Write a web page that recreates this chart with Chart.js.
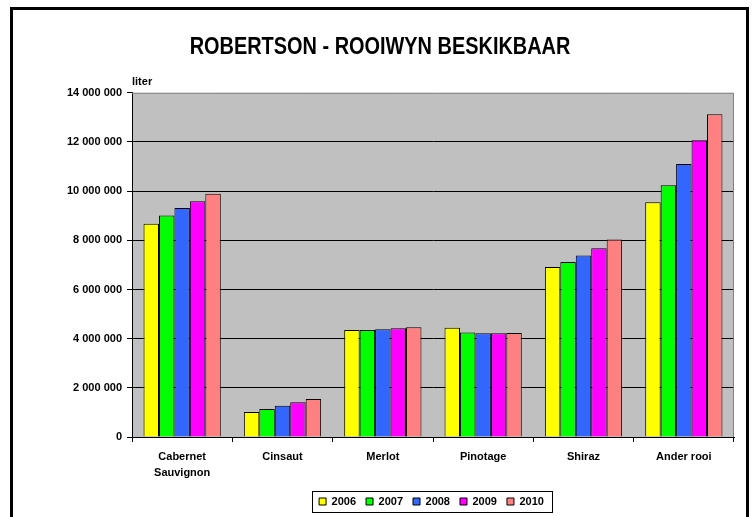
<!DOCTYPE html>
<html>
<head>
<meta charset="utf-8">
<script src="https://cdn.jsdelivr.net/npm/chart.js@4/dist/chart.umd.min.js"></script>
<style>
  html, body { margin: 0; padding: 0; background: #fff; overflow: hidden; }
  #wrap { position: relative; width: 755px; height: 517px; }
  #chart { position: absolute; left: 0; top: 0; }
  #frame {
    position: absolute; left: 10px; top: 7px; width: 733px; height: 600px;
    border: 3px solid #000; pointer-events: none;
  }
</style>
</head>
<body>
<div id="wrap">
  <canvas id="chart" width="755" height="517"></canvas>
  <div id="frame"></div>
</div>
<script>
// Robertson - red wine available, liters per cultivar
const CATEGORIES = [['Cabernet', 'Sauvignon'], 'Cinsaut', 'Merlot', 'Pinotage', 'Shiraz', 'Ander rooi'];
const YEARS = ['2006', '2007', '2008', '2009', '2010'];
const COLORS = ['#ffff00', '#00ff00', '#3366ff', '#ff00ff', '#ff8080'];

const V2006 = [8670000, 1020000, 4350000, 4440000, 6910000, 9550000];
const V2007 = [9010000, 1140000, 4350000, 4250000, 7120000, 10240000];
const V2008 = [9310000, 1270000, 4380000, 4220000, 7380000, 11100000];
const V2009 = [9590000, 1410000, 4420000, 4220000, 7680000, 12070000];
const V2010 = [9890000, 1550000, 4460000, 4230000, 8030000, 13130000];
const SERIES = [V2006, V2007, V2008, V2009, V2010];

const Y_MAX = 14000000;
const Y_STEP = 2000000;

const FONT = "'Liberation Sans', Arial, sans-serif";

const fmt = v => String(v).replace(/\B(?=(\d{3})+(?!\d))/g, ' ');

// grey plot background + outline, "liter" label, legend frame, narrow title
const decor = {
    id: 'decor',
    afterLayout(chart) {
        // legend sits right of centre in the original
        const lg = chart.legend;
        const shift = 431.5 - (lg.left + lg.right) / 2;
        lg.left += shift;
        lg.right += shift;

        // the title is drawn condensed (narrow bold face)
        const tb = chart.titleBlock;
        if (tb && !tb._narrow) {
            tb._narrow = true;
            const orig = tb.draw;
            tb.draw = function (...args) {
                const ctx = this.ctx;
                const cx = (this.left + this.right) / 2;
                ctx.save();
                ctx.translate(cx, 0);
                ctx.scale(0.83, 1);
                ctx.translate(-cx, 0);
                orig.apply(this, args);
                ctx.restore();
            };
        }
    },
    beforeDraw(chart) {
        const { ctx, chartArea: a } = chart;
        ctx.save();
        ctx.fillStyle = '#c0c0c0';
        ctx.fillRect(a.left, a.top, a.right - a.left, a.bottom - a.top);
        ctx.restore();
    },
    beforeDatasetsDraw(chart) {
        const { ctx, chartArea: a } = chart;
        ctx.save();
        ctx.strokeStyle = '#808080';
        ctx.lineWidth = 1;
        ctx.beginPath();
        ctx.moveTo(a.left, a.top + 0.5);
        ctx.lineTo(a.right - 0.5, a.top + 0.5);
        ctx.lineTo(a.right - 0.5, a.bottom);
        ctx.stroke();
        ctx.restore();
    },
    afterDraw(chart) {
        const { ctx, chartArea: a } = chart;
        ctx.save();
        ctx.fillStyle = '#000';
        ctx.font = 'bold 11px ' + FONT;
        ctx.textAlign = 'left';
        ctx.textBaseline = 'alphabetic';
        ctx.fillText('liter', a.left, 84.5);

        const boxes = chart.legend.legendHitBoxes;
        if (boxes && boxes.length) {
            const first = boxes[0], last = boxes[boxes.length - 1];
            const l = Math.round(first.left - 7), r = Math.round(last.left + last.width + 8);
            const t = Math.round(first.top - 5), b = Math.round(first.top + first.height + 5);
            ctx.strokeStyle = '#000';
            ctx.lineWidth = 1;
            ctx.strokeRect(l + 0.5, t + 0.5, r - l, b - t);
        }
        ctx.restore();
    }
};

const datasets = YEARS.map((y, i) => ({
    label: y,
    data: SERIES[i],
    backgroundColor: COLORS[i],
    borderColor: '#000',
    borderWidth: 1,
    categoryPercentage: 0.77,
    barPercentage: 1,
}));

new Chart(document.getElementById('chart'), {
    type: 'bar',
    data: { labels: CATEGORIES, datasets },
    plugins: [decor],
    options: {
        responsive: false,
        animation: false,
        events: [],
        layout: { padding: { left: 26, right: 21, top: 0, bottom: 0 } },
        plugins: {
            title: {
                display: true,
                text: 'ROBERTSON - ROOIWYN BESKIKBAAR',
                color: '#000',
                font: { family: FONT, size: 24, weight: 'bold', lineHeight: 1.2 },
                padding: { top: 33, bottom: 31 },
            },
            legend: {
                position: 'bottom',
                labels: {
                    color: '#000',
                    boxWidth: 7,
                    boxHeight: 7,
                    padding: 10,
                    font: { family: FONT, size: 11, weight: 'bold' },
                },
            },
            tooltip: { enabled: false },
        },
        scales: {
            x: {
                afterFit: s => { s.height = 49; },
                grid: { offset: true, drawOnChartArea: false, tickLength: 5, tickColor: '#000' },
                border: { color: '#000', width: 1 },
                ticks: {
                    color: '#000',
                    padding: 7,
                    maxRotation: 0,
                    autoSkip: false,
                    font: { family: FONT, size: 11, weight: 'bold', lineHeight: 1.45 },
                },
            },
            y: {
                min: 0,
                max: Y_MAX,
                afterFit: s => { s.width = 106; },
                grid: {
                    color: c => (c.tick && c.tick.value === Y_MAX ? 'rgba(0,0,0,0)' : '#000'),
                    tickColor: '#000',
                    tickLength: 5,
                },
                border: { color: '#000', width: 1 },
                ticks: {
                    stepSize: Y_STEP,
                    color: '#000',
                    padding: 5,
                    font: { family: FONT, size: 11, weight: 'bold' },
                    callback: v => fmt(v),
                },
            },
        },
    },
});
</script>
</body>
</html>
